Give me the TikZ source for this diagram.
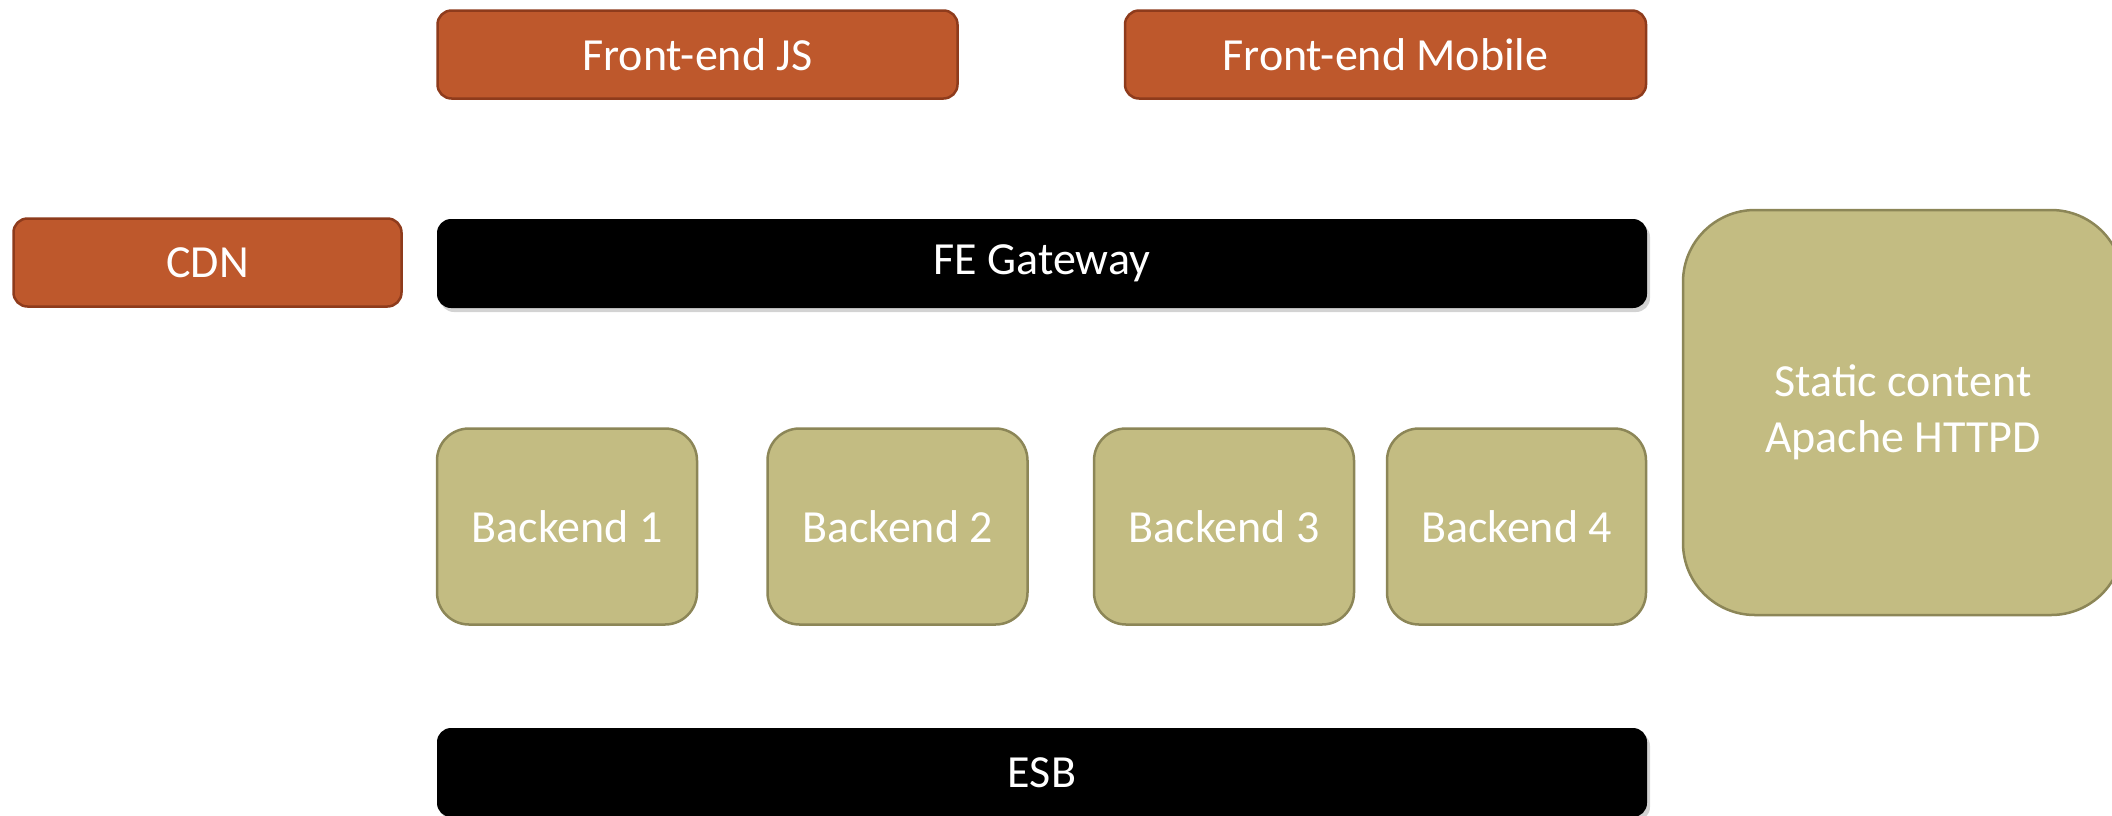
\documentclass[tikz,border=0pt]{standalone}
\usepackage{fontspec}
\setmainfont{Carlito}
\usetikzlibrary{shadows}
\definecolor{rust}{HTML}{BE582C}
\definecolor{rustline}{HTML}{8E3B1C}
\definecolor{olive}{HTML}{C3BC82}
\definecolor{oliveline}{HTML}{8C8657}
\begin{document}
\begin{tikzpicture}[x=1pt,y=-1pt,
  every node/.style={inner sep=0pt, text=white, font=\fontsize{46}{56}\selectfont, align=center},
  orangebox/.style={fill=rust, draw=rustline, line width=2.5pt, rounded corners=14pt},
  blackbox/.style={fill=black, rounded corners=14pt, drop shadow={opacity=0.35, shadow xshift=3pt, shadow yshift=-4pt}},
  olivebox/.style={fill=olive, draw=oliveline, line width=2.5pt, rounded corners=32pt},
]
\useasboundingbox (0,0) rectangle (2112,815);
\clip (0,0) rectangle (2112,815);
\node[orangebox, minimum width=520pt, minimum height=88pt] (fejs) at (697.5,54.5) {Front-end JS};
\node[orangebox, minimum width=521pt, minimum height=88pt] (fem) at (1385.5,54.5) {Front-end Mobile};
\node[orangebox, minimum width=388pt, minimum height=88pt] (cdn) at (207.5,262.5) {CDN};
\node[blackbox, minimum width=1210pt, minimum height=89pt] (gw) at (1042,263.5) {FE Gateway};
\node[olivebox, minimum width=260pt, minimum height=196pt] (b1) at (567,526.5) {Backend 1};
\node[olivebox, minimum width=260pt, minimum height=196pt] (b2) at (897.5,526.5) {Backend 2};
\node[olivebox, minimum width=260pt, minimum height=196pt] (b3) at (1224,526.5) {Backend 3};
\node[olivebox, minimum width=259pt, minimum height=196pt] (b4) at (1516.5,526.5) {Backend 4};
\node[olivebox, rounded corners=72pt, minimum width=440pt, minimum height=405pt] (static) at (1903,412.5) {Static content\\Apache HTTPD};
\node[blackbox, minimum width=1210pt, minimum height=89pt] (esb) at (1042,772.5) {ESB};
\end{tikzpicture}
\end{document}
